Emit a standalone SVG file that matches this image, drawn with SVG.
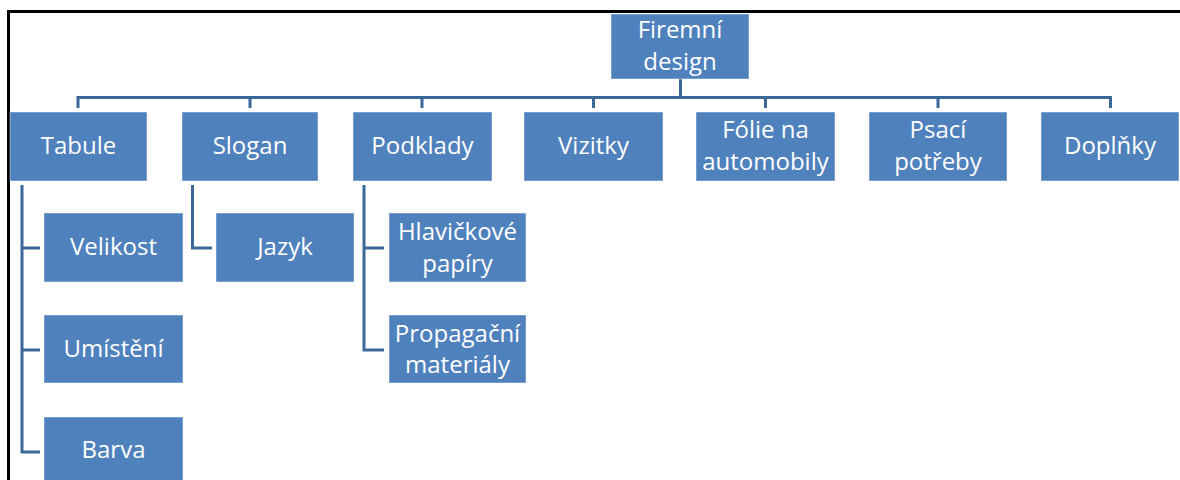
<svg xmlns="http://www.w3.org/2000/svg" width="1180" height="480" viewBox="0 0 1180 480">
  <style>
    .box { fill: #4f81bd; stroke: #ffffff; stroke-opacity: 0.45; stroke-width: 1; }
    .lbl { fill: #ffffff; font-family: "Open Sans", "Liberation Sans", sans-serif; font-size: 24px; text-anchor: middle; }
    .wire { fill: none; stroke: #3c6899; stroke-width: 3; stroke-linejoin: miter; stroke-linecap: butt; }
  </style>
  <rect x="0" y="0" width="1180" height="480" fill="#ffffff"/>
  <!-- outer frame -->
  <rect x="8.5" y="11.5" width="1180" height="480" fill="none" stroke="#000000" stroke-width="3"/>

  <g id="connectors">
    <!-- root to bus -->
    <path class="wire" d="M680.5 79 V97.5"/>
    <path class="wire" d="M78 108 V97.5 H1110.5 V108"/>
    <path class="wire" d="M250 97.5 V108"/>
    <path class="wire" d="M422 97.5 V108"/>
    <path class="wire" d="M593.5 97.5 V108"/>
    <path class="wire" d="M765.5 97.5 V108"/>
    <path class="wire" d="M938 97.5 V108"/>
    <!-- Tabule children -->
    <path class="wire" d="M22 185 V452 H40"/>
    <path class="wire" d="M22 248 H40"/>
    <path class="wire" d="M22 350 H40"/>
    <!-- Slogan child -->
    <path class="wire" d="M192.5 185 V248 H212"/>
    <!-- Podklady children -->
    <path class="wire" d="M364 185 V350 H384"/>
    <path class="wire" d="M364 248 H384"/>
  </g>

  <g id="firemni-design">
    <rect class="box" x="611" y="14" width="138" height="65"/>
    <text class="lbl" x="680" y="38">Firemní</text>
    <text class="lbl" x="680" y="70">design</text>
  </g>

  <g id="tabule">
    <rect class="box" x="10" y="112" width="137" height="69"/>
    <text class="lbl" x="78.5" y="154">Tabule</text>
  </g>
  <g id="slogan">
    <rect class="box" x="182" y="112" width="136" height="69"/>
    <text class="lbl" x="250" y="154">Slogan</text>
  </g>
  <g id="podklady">
    <rect class="box" x="353" y="112" width="139" height="69"/>
    <text class="lbl" x="422.5" y="154">Podklady</text>
  </g>
  <g id="vizitky">
    <rect class="box" x="524" y="112" width="139" height="69"/>
    <text class="lbl" x="593.5" y="154">Vizitky</text>
  </g>
  <g id="folie">
    <rect class="box" x="696" y="112" width="139" height="69"/>
    <text class="lbl" x="765.5" y="138">Fólie na</text>
    <text class="lbl" x="765.5" y="170">automobily</text>
  </g>
  <g id="psaci-potreby">
    <rect class="box" x="869" y="112" width="138" height="69"/>
    <text class="lbl" x="938" y="138">Psací</text>
    <text class="lbl" x="938" y="170">potřeby</text>
  </g>
  <g id="doplnky">
    <rect class="box" x="1041" y="112" width="138" height="69"/>
    <text class="lbl" x="1110" y="154">Doplňky</text>
  </g>

  <g id="velikost">
    <rect class="box" x="44" y="213" width="139" height="69"/>
    <text class="lbl" x="113.5" y="255">Velikost</text>
  </g>
  <g id="umisteni">
    <rect class="box" x="44" y="315" width="139" height="68"/>
    <text class="lbl" x="113.5" y="357">Umístění</text>
  </g>
  <g id="barva">
    <rect class="box" x="44" y="417" width="139" height="69"/>
    <text class="lbl" x="113.5" y="458">Barva</text>
  </g>
  <g id="jazyk">
    <rect class="box" x="216" y="213" width="138" height="69"/>
    <text class="lbl" x="285" y="255">Jazyk</text>
  </g>
  <g id="hlavickove-papiry">
    <rect class="box" x="389" y="213" width="137" height="69"/>
    <text class="lbl" x="457.5" y="240">Hlavičkové</text>
    <text class="lbl" x="457.5" y="272">papíry</text>
  </g>
  <g id="propagacni-materialy">
    <rect class="box" x="389" y="315" width="137" height="68"/>
    <text class="lbl" x="457.5" y="342">Propagační</text>
    <text class="lbl" x="457.5" y="373">materiály</text>
  </g>
</svg>
